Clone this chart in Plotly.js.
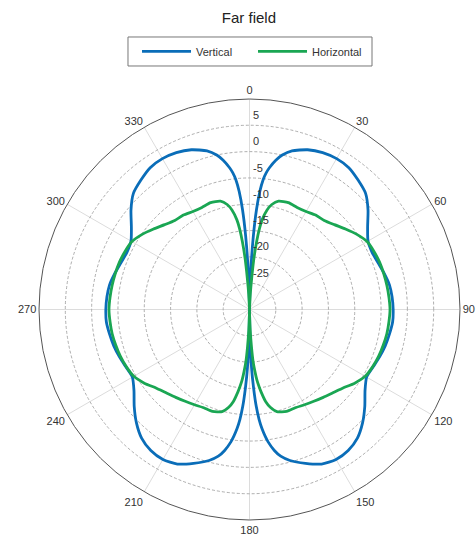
<!DOCTYPE html>
<html>
<head>
<meta charset="utf-8">
<script src="https://cdn.plot.ly/plotly-3.0.1.min.js"></script>
<style>html,body{margin:0;padding:0;background:#fff;}#chart{width:476px;height:535px;}</style>
</head>
<body>
<div id="chart"></div>
<script>
// Angles (degrees, clockwise from top)
var theta = [0,1,2,3,4,5,6,7,8,10,12,15,20,25,30,35,40,45,50,55,60,65,70,75,80,85,90,
  95,100,105,110,115,120,125,130,135,140,145,150,155,160,165,168,170,172,173,174,175,176,177,178,179,180,
  181,182,183,184,185,186,187,188,190,192,195,200,205,210,215,220,225,230,235,240,245,250,255,260,265,270,
  275,280,285,290,295,300,305,310,315,320,325,330,335,340,345,348,350,352,353,354,355,356,357,358,359,360];

// Vertical polarisation (dB)
var vertical = [-30,-28,-22,-16,-11,-7.5,-5.2,-3.8,-2.8,-1.2,0,1.2,2.3,2.9,3.1,2.9,2.1,1.2,-0.6,-2.6,-4.0,-4.3,-4.0,-3.5,-3.0,-2.8,-2.7,
  -2.7,-3.0,-3.3,-3.7,-4.1,-4.3,-3.2,-1.4,0.4,1.9,2.7,2.9,2.4,1.1,-0.3,-1.5,-2.8,-4.6,-5.8,-7.2,-9,-11.5,-15,-19,-25,-30,
  -25,-19,-15,-11.5,-9,-7.2,-5.8,-4.6,-2.8,-1.5,-0.3,1.1,2.4,2.9,2.7,1.9,0.4,-1.4,-3.2,-4.3,-4.1,-3.7,-3.3,-3.0,-2.7,-2.7,
  -2.8,-3.0,-3.5,-4.0,-4.3,-4.0,-2.6,-0.6,1.2,2.1,2.9,3.1,2.9,2.3,1.2,0,-1.2,-2.8,-3.8,-5.2,-7.5,-11,-16,-22,-28,-30];

// Horizontal polarisation (dB)
var horizontal = [-30,-30,-30,-27,-24,-20,-17,-14.5,-12.8,-10.8,-9.6,-8.7,-8.4,-8.6,-8.5,-8.1,-7.9,-7.2,-6.2,-5.1,-4.2,-3.9,-3.7,-3.6,-3.5,-3.4,-3.3,
  -3.4,-3.5,-3.7,-3.9,-4.2,-4.6,-5.6,-6.8,-7.6,-8.2,-8.7,-9.1,-9.4,-9.4,-9.9,-11.0,-12.2,-14.2,-15.3,-16.5,-18.2,-20,-23,-26,-29,-30,
  -29,-26,-23,-20,-18.2,-16.5,-15.3,-14.2,-12.2,-11.0,-9.9,-9.4,-9.4,-9.1,-8.7,-8.2,-7.6,-6.8,-5.6,-4.6,-4.2,-3.9,-3.7,-3.5,-3.4,-3.3,
  -3.4,-3.5,-3.6,-3.7,-3.9,-4.2,-5.1,-6.2,-7.2,-7.9,-8.1,-8.5,-8.6,-8.4,-8.7,-9.6,-10.8,-12.8,-14.5,-17,-20,-24,-27,-30,-30,-30];

var angleTicks = [0,30,60,90,120,150,180,210,240,270,300,330];
var radialTicks = [-25,-20,-15,-10,-5,0,5];

var traces = [
  {type:'scatterpolar', mode:'lines', name:'Vertical', theta:theta, r:vertical,
   line:{color:'#0a6db8', width:2.8, shape:'spline', smoothing:0.6}},
  {type:'scatterpolar', mode:'lines', name:'Horizontal', theta:theta, r:horizontal,
   line:{color:'#1aa653', width:2.8, shape:'spline', smoothing:0.6}},
  // empty trace so the label-only overlay subplot is drawn
  {type:'scatterpolar', mode:'lines', subplot:'polar2', theta:[], r:[], showlegend:false, hoverinfo:'skip'}
];

var font = 'Liberation Sans, Arial, sans-serif';
var tickFont = {family:font, size:11, color:'#333'};
var layout = {
  width:476, height:535,
  margin:{l:39, r:16, t:99, b:15},
  paper_bgcolor:'#fff',
  font:{family:font, color:'#333', size:11},
  title:{text:'Far field', x:0.523, xanchor:'center', y:0.967, yanchor:'middle', font:{family:font, size:15, color:'#222'}},
  showlegend:true,
  legend:{orientation:'h', x:0.2328, xanchor:'left', y:1.113, yanchor:'middle',
          borderwidth:0, bgcolor:'rgba(0,0,0,0)', font:{family:font, size:11, color:'#333'},
          itemwidth:49, entrywidth:52},
  shapes:[{type:'rect', xref:'paper', yref:'paper', x0:0.2114, x1:0.791, y0:1.0784, y1:1.1473,
           line:{color:'#777', width:1}, fillcolor:'rgba(0,0,0,0)', layer:'below'}],
  polar:{
    bgcolor:'#fff',
    domain:{x:[0,1], y:[0,1]},
    angularaxis:{rotation:90, direction:'clockwise', tickmode:'array', tickvals:angleTicks,
      ticktext:angleTicks.map(String), showline:true, linecolor:'#555', linewidth:1,
      gridcolor:'#dcdcdc', gridwidth:1, ticks:'', tickfont:tickFont},
    radialaxis:{range:[-30,10], angle:90, tickmode:'array', tickvals:radialTicks,
      showticklabels:false, showline:false, ticks:'',
      gridcolor:'#999', griddash:'3px,2px', gridwidth:0.8}
  },
  // overlay carrying only the radial tick labels, drawn just outside each ring
  polar2:{
    bgcolor:'rgba(0,0,0,0)',
    domain:{x:[0,1], y:[0,1]},
    angularaxis:{rotation:90, direction:'clockwise', visible:false, showgrid:false, showline:false, showticklabels:false},
    radialaxis:{range:[-31.9,8.1], angle:90, tickangle:90, side:'clockwise', tickmode:'array', tickvals:radialTicks,
      ticktext:radialTicks.map(function(v){return '\u00a0' + v;}), showgrid:false, showline:false, ticks:'', tickfont:tickFont}
  }
};
Plotly.newPlot('chart', traces, layout, {displayModeBar:false, staticPlot:true});
</script>
</body>
</html>
